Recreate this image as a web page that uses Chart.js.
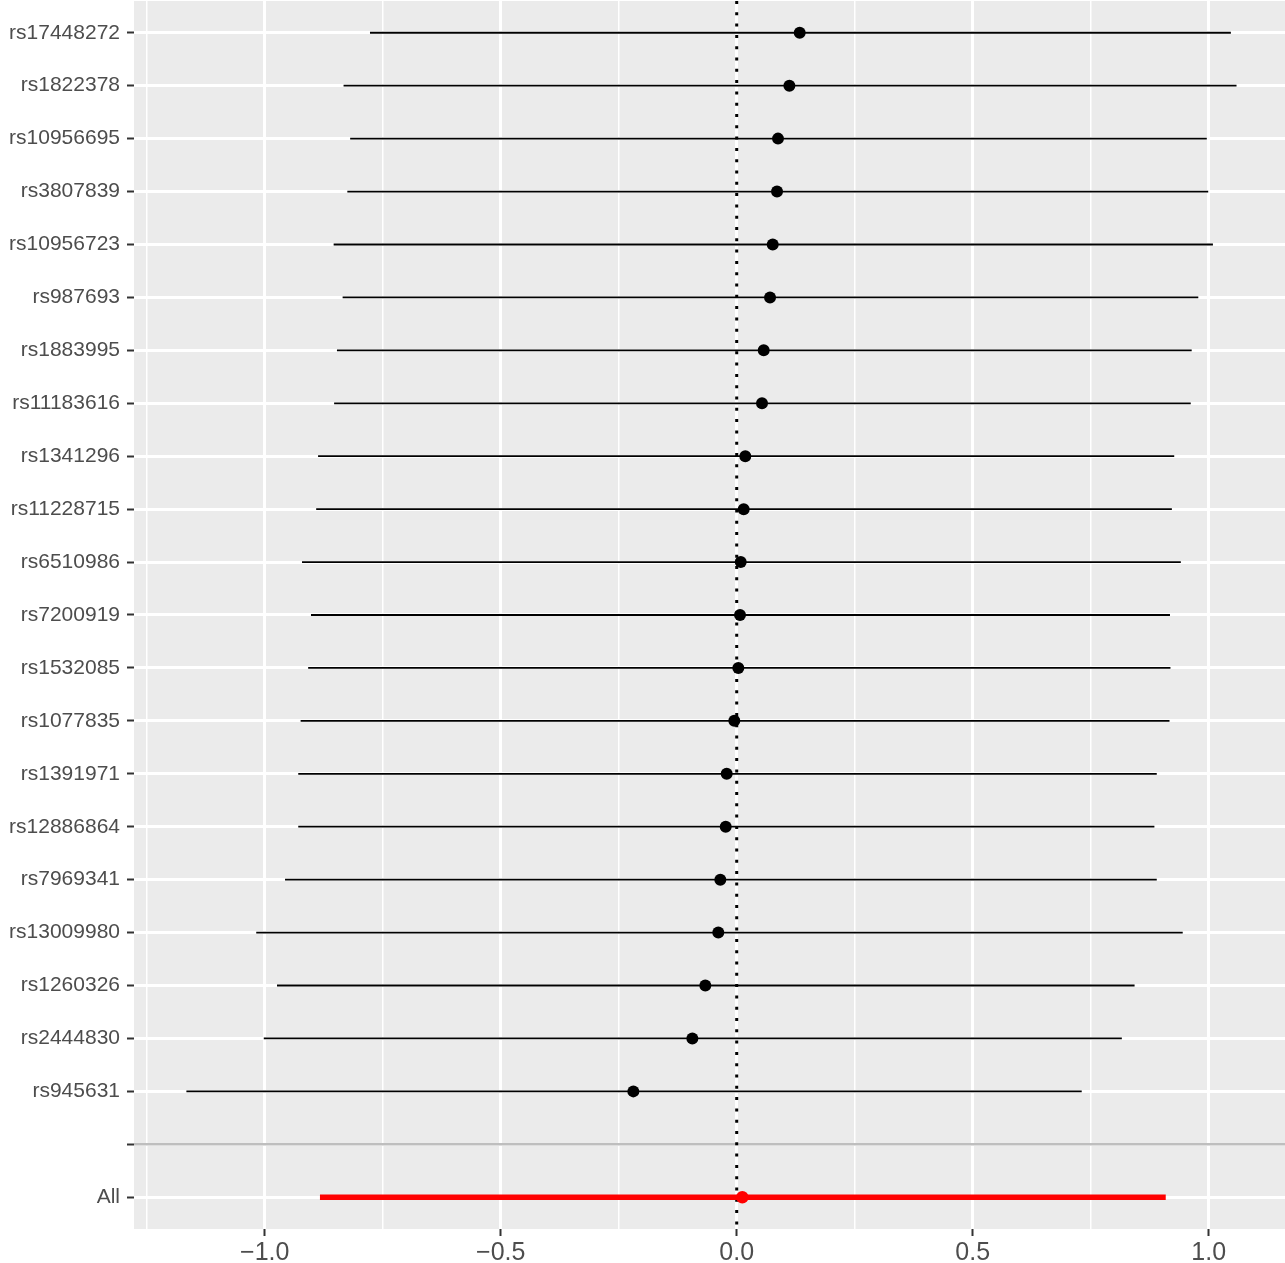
<!DOCTYPE html>
<html>
<head>
<meta charset="utf-8">
<script src="https://cdn.jsdelivr.net/npm/chart.js@4.4.1/dist/chart.umd.min.js"></script>
<style>
  html, body { margin: 0; padding: 0; background: #ffffff; }
  canvas { display: block; }
</style>
</head>
<body>
<canvas id="chart" width="1285" height="1263"></canvas>
<script>
// SNPs top to bottom, then an empty spacer row and the pooled estimate
var snps = ['rs17448272', 'rs1822378', 'rs10956695', 'rs3807839', 'rs10956723', 'rs987693',
  'rs1883995', 'rs11183616', 'rs1341296', 'rs11228715', 'rs6510986', 'rs7200919',
  'rs1532085', 'rs1077835', 'rs1391971', 'rs12886864', 'rs7969341', 'rs13009980',
  'rs1260326', 'rs2444830', 'rs945631'];
var rowLabels = snps.concat(['', 'All']);

var estimate = [0.1335, 0.1116, 0.0875, 0.0854, 0.0763, 0.0706, 0.0572, 0.0536, 0.0182, 0.0148,
  0.0085, 0.0070, 0.0034, -0.0051, -0.0212, -0.0233, -0.0347, -0.0390, -0.0665, -0.0940, -0.2190];
var lower = [-0.777, -0.833, -0.819, -0.825, -0.854, -0.835, -0.847, -0.853, -0.887, -0.891,
  -0.921, -0.902, -0.908, -0.924, -0.929, -0.929, -0.957, -1.018, -0.974, -1.002, -1.166];
var upper = [1.047, 1.059, 0.996, 0.999, 1.009, 0.978, 0.964, 0.962, 0.927, 0.922,
  0.941, 0.918, 0.919, 0.917, 0.890, 0.885, 0.890, 0.945, 0.843, 0.816, 0.731];

var allEstimate = 0.0119;
var allLower = -0.883;
var allUpper = 0.909;

var xMajorTicks = [-1, -0.5, 0, 0.5, 1];
var xMinorTicks = [-1.25, -0.75, -0.25, 0.25, 0.75];
var xTickLabels = ['\u22121.0', '\u22120.5', '0.0', '0.5', '1.0'];
var xMin = -1.277, xMax = 1.1617;

var spacerRow = rowLabels.indexOf('');
var allRow = rowLabels.indexOf('All');
var yMin = -0.6, yMax = rowLabels.length - 1 + 0.6;

var font = "'Liberation Sans', Arial, Helvetica, sans-serif";

// one segment per snp
var barSets = snps.map(function (s, i) {
  return {
    data: [{x: lower[i], y: i}, {x: upper[i], y: i}],
    showLine: true, borderColor: '#000000', borderWidth: 1.8,
    pointRadius: 0, order: 2
  };
});

var datasets = [
  {
    data: snps.map(function (s, i) { return {x: estimate[i], y: i}; }),
    backgroundColor: '#000000', borderColor: '#000000', borderWidth: 0,
    pointRadius: 6, showLine: false, order: 1
  },
  {
    data: [{x: allEstimate, y: allRow}],
    backgroundColor: '#ff0000', borderColor: '#ff0000', borderWidth: 0,
    pointRadius: 6.2, showLine: false, order: 1
  },
  {
    data: [{x: allLower, y: allRow}, {x: allUpper, y: allRow}],
    showLine: true, borderColor: '#ff0000', borderWidth: 5.5,
    pointRadius: 0, order: 2
  },
  {
    // dotted reference line at zero
    data: [{x: 0, y: yMin}, {x: 0, y: yMax}],
    showLine: true, borderColor: '#000000', borderWidth: 3, borderDash: [3, 8.3],
    borderCapStyle: 'butt', pointRadius: 0, order: 3
  },
  {
    // separator above the pooled row
    data: [{x: xMin, y: spacerRow}, {x: xMax, y: spacerRow}],
    showLine: true, borderColor: '#bebebe', borderWidth: 2.6,
    pointRadius: 0, order: 4
  }
].concat(barSets);

var panelBg = {
  id: 'panelBg',
  beforeDraw: function (chart) {
    var a = chart.chartArea, ctx = chart.ctx;
    ctx.save();
    ctx.fillStyle = '#ebebeb';
    ctx.fillRect(a.left, a.top, a.right - a.left, a.bottom - a.top);
    ctx.restore();
  }
};

function isMajor(v) { return xMajorTicks.indexOf(v) >= 0; }

new Chart(document.getElementById('chart').getContext('2d'), {
  type: 'scatter',
  data: {datasets: datasets},
  plugins: [panelBg],
  options: {
    responsive: false,
    devicePixelRatio: 1,
    animation: false,
    layout: {autoPadding: false, padding: {top: 1, right: 0, bottom: 0, left: 0}},
    plugins: {legend: {display: false}, tooltip: {enabled: false}},
    scales: {
      x: {
        type: 'linear', min: xMin, max: xMax,
        afterBuildTicks: function (s) {
          s.ticks = xMinorTicks.concat(xMajorTicks).sort(function (a, b) { return a - b; })
            .map(function (v) { return {value: v}; });
        },
        afterFit: function (s) {
          s.height = 34;
          s.paddingLeft = 0; s.paddingRight = 0;
        },
        border: {display: false},
        grid: {
          color: '#ffffff',
          lineWidth: function (c) { return c.tick && isMajor(c.tick.value) ? 3 : 1.5; },
          tickColor: function (c) { return c.tick && isMajor(c.tick.value) ? '#333333' : 'rgba(0,0,0,0)'; },
          tickWidth: 2, tickLength: 7
        },
        ticks: {
          autoSkip: false, maxRotation: 0, padding: 2,
          color: '#4d4d4d', font: {family: font, size: 25},
          callback: function (v) {
            var k = xMajorTicks.indexOf(v);
            return k >= 0 ? xTickLabels[k] : '';
          }
        }
      },
      y: {
        type: 'linear', min: yMin, max: yMax, reverse: true,
        afterBuildTicks: function (s) {
          s.ticks = rowLabels.map(function (l, i) { return {value: i}; });
        },
        afterFit: function (s) {
          s.width = 134;
          s.paddingTop = 0; s.paddingBottom = 0;
        },
        border: {display: false},
        grid: {
          color: '#ffffff', lineWidth: 3,
          tickColor: '#333333', tickWidth: 2, tickLength: 7
        },
        ticks: {
          autoSkip: false, padding: 7,
          color: '#4d4d4d', font: {family: font, size: 21},
          callback: function (v) { return rowLabels[v]; }
        }
      }
    }
  }
});
</script>
</body>
</html>
